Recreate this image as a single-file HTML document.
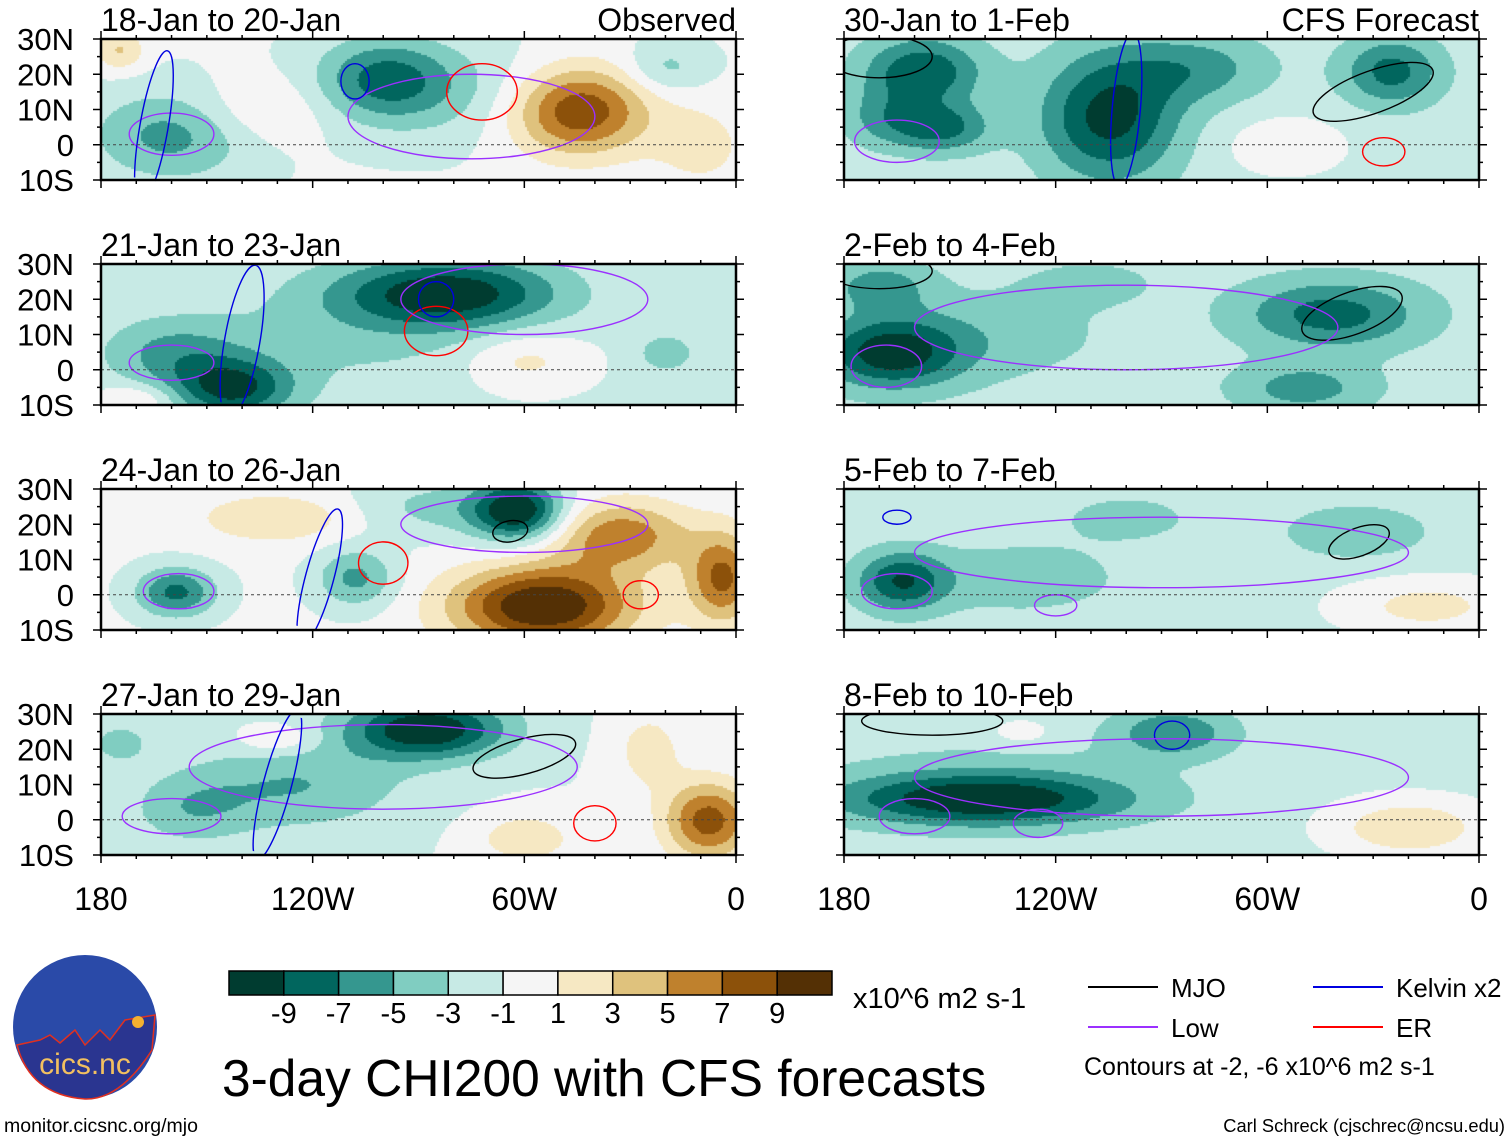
<!DOCTYPE html>
<html><head><meta charset="utf-8"><style>
body{margin:0;background:#fff;}
#wrap{position:relative;width:1510px;height:1142px;overflow:hidden;font-family:"Liberation Sans",sans-serif;}
canvas{position:absolute;}
svg{position:absolute;left:0;top:0;}
</style></head><body>
<div id="wrap">
<svg id="s" width="1510" height="1142"></svg>
</div>
<script>
const levelColors=["#003c30","#01665e","#35978f","#80cdc1","#c7eae5","#f5f5f5","#f6e8c3","#dfc27d","#bf812d","#8c510a","#543005"];
const colorbarLabels=["-9","-7","-5","-3","-1","1","3","5","7","9"];
const latTicks=[30,20,10,0,-10];
const latLabels=["30N","20N","10N","0","10S"];
const lonTicks=[-180,-120,-60,0];
const lonLabels=["180","120W","60W","0"];
const panelTitles=["18-Jan to 20-Jan","21-Jan to 23-Jan","24-Jan to 26-Jan","27-Jan to 29-Jan","30-Jan to 1-Feb","2-Feb to 4-Feb","5-Feb to 7-Feb","8-Feb to 10-Feb"];
const panelBase=[-0.8,-1.3,-0.6,-1.0,-1.8,-2.0,-1.8,-1.8];
// blobs: [lon, lat, amplitude, lonRadius, latRadius]
const blobs0=[[-45,10,10,14,9],[-100,19,-6,13,8],[-160,3,-5,16,9],[-175,27,4,5,4],[-135,10,2.5,14,7],[-80,15,-2.5,25,10],[-10,0,2.5,10,9],[-20,22,-3,8,5]];
const blobs1=[[-82,22,-9,22,7],[-143,-5,-8,12,6],[-60,3,3,12,6],[-160,5,-4,14,7],[-110,10,-2,30,12],[-20,5,-3,6,4],[-170,-8,3,8,3]];
const blobs2=[[-62,24,-10,9,6],[-55,-3,12,18,8],[-33,17,7,14,7],[-130,22,3.5,16,5],[-159,1,-7,8,5],[-108,5,-5,8,6],[-4,5,8,7,9],[-85,25,-3,18,6]];
const blobs3=[[-88,26,-10,16,6],[-125,10,-4,22,9],[-8,0,9,9,8],[-60,-5,3.5,10,5],[-130,23,3,8,3],[-155,3,-3,12,7],[-25,20,3,7,8],[-175,22,-3,6,4]];
const blobs4=[[-105,8,-8,14,13],[-158,21,-7,12,7],[-25,21,-6,10,7],[-153,5,-6,10,5],[-55,0,2.5,12,6],[-80,22,-4,15,7],[-170,8,-3,8,6]];
const blobs5=[[-167,5,-8,14,7],[-42,16,-6,18,7],[-50,-5,-4,14,5],[-140,10,-2,24,9],[-170,24,-4,10,5],[-110,25,-1.5,15,5]];
const blobs6=[[-164,4,-7,9,6],[-130,5,-2.5,20,7],[-15,-3,3.5,18,6],[-35,18,-2.5,16,6],[-100,22,-2,14,5]];
const blobs7=[[-141,6,-8,28,5],[-20,-2,4.5,16,6],[-87,25,-5,12,5],[-140,10,-2,34,9],[-130,25,2,7,3]];
const panelBlobs=[blobs0,blobs1,blobs2,blobs3,blobs4,blobs5,blobs6,blobs7];
// contours: [type, lon, lat, lonRadius, latRadius, rotationDeg]
const contours=[
 [["low",-160,3,12,6,0],["low",-75,8,35,12,0],["er",-72,15,10,8,0],["kelvin",-108,18,4,5,0],["kelvin",-165,5,4,22,10]],
 [["low",-160,2,12,5,0],["er",-85,11,9,7,0],["kelvin",-85,20,5,5,0],["low",-60,20,35,10,0],["kelvin",-140,8,5,22,10]],
 [["low",-158,1,10,5,0],["er",-100,9,7,6,0],["er",-27,0,5,4,0],["mjo",-64,18,5,3,-10],["low",-60,20,35,8,0],["kelvin",-118,5,4,20,15]],
 [["low",-160,1,14,5,0],["mjo",-60,18,15,5,-15],["er",-40,-1,6,5,0],["low",-100,15,55,12,0],["kelvin",-130,10,4,22,15]],
 [["low",-165,1,12,6,0],["mjo",-30,15,18,6,-20],["er",-27,-2,6,4,0],["mjo",-170,25,15,6,0],["kelvin",-100,10,4,22,5]],
 [["low",-168,1,10,6,0],["mjo",-36,16,15,6,-20],["low",-100,12,60,12,0],["mjo",-170,28,15,5,0]],
 [["low",-165,1,10,5,0],["mjo",-34,15,9,4,-20],["low",-120,-3,6,3,0],["low",-90,12,70,10,0],["kelvin",-165,22,4,2,0]],
 [["low",-160,1,10,5,0],["low",-125,-1,7,4,0],["kelvin",-87,24,5,4,0],["mjo",-155,28,20,4,0],["low",-90,12,70,11,0]]
];
const contourColors={mjo:"#000",low:"#9b30ff",kelvin:"#0000e0",er:"#f00"};

const NS="http://www.w3.org/2000/svg";
const svg=document.getElementById('s');
function mk(tag,attrs,parent,text){const e=document.createElementNS(NS,tag);for(const k in attrs)e.setAttribute(k,attrs[k]);if(text!==undefined)e.textContent=text;(parent||svg).appendChild(e);return e;}
const PW=635,PH=141;
const origins=[[101,39],[101,264],[101,489],[101,714],[844,39],[844,264],[844,489],[844,714]];
function fieldAt(p,lon,lat){let v=panelBase[p];for(const b of panelBlobs[p]){const dx=(lon-b[0])/b[3],dy=(lat-b[1])/b[4];v+=b[2]*Math.exp(-(dx*dx+dy*dy)/2);}return v;}
function levelIndex(v){return Math.max(0,Math.min(10,Math.floor((v+11)/2)));}
const wrap=document.getElementById('wrap');
origins.forEach((o,p)=>{
  const x0=o[0],y0=o[1];
  const xs=lon=>x0+(lon+180)/180*PW, ys=lat=>y0+(30-lat)/40*PH;
  const c=document.createElement('canvas');c.width=PW;c.height=PH;c.style.left=x0+'px';c.style.top=y0+'px';
  
  
  wrap.insertBefore(c,svg);
  const ctx=c.getContext('2d');const st=2;
  for(let px=0;px<PW;px+=st)for(let py=0;py<PH;py+=st){
    const lon=-180+px/PW*180,lat=30-py/PH*40;
    ctx.fillStyle=levelColors[levelIndex(fieldAt(p,lon,lat))];ctx.fillRect(px,py,st,st);
  }
  const g=mk('g',{});
  const cp=mk('clipPath',{id:'clip'+p},g);mk('rect',{x:x0,y:y0,width:PW,height:PH},cp);
  contours[p].forEach(ct=>{
    const cx=xs(ct[1]),cy=ys(ct[2]),rx=ct[3]/180*PW,ry=ct[4]/40*PH;
    mk('ellipse',{cx,cy,rx,ry,transform:`rotate(${ct[5]} ${cx} ${cy})`,fill:'none',stroke:contourColors[ct[0]],'stroke-width':1.4,'clip-path':'url(#clip'+p+')',},g);
  });
  mk('line',{x1:x0,x2:x0+PW,y1:ys(0),y2:ys(0),stroke:'#444','stroke-dasharray':'3,3','stroke-width':1,},g);
  mk('rect',{x:x0,y:y0,width:PW,height:PH,fill:'none',stroke:'#000','stroke-width':2.5,},g);
  for(let lon=-180;lon<=0;lon+=10){const x=xs(lon),l=lon%60==0?8:4;
    mk('line',{x1:x,x2:x,y1:y0,y2:y0-l,stroke:'#000','stroke-width':1.5},g);mk('line',{x1:x,x2:x,y1:y0+PH,y2:y0+PH+l,stroke:'#000','stroke-width':1.5},g);}
  for(let lat=-10;lat<=30;lat+=5){const y=ys(lat),l=lat%10==0?8:4;
    mk('line',{x1:x0,x2:x0-l,y1:y,y2:y,stroke:'#000','stroke-width':1.5},g);mk('line',{x1:x0+PW,x2:x0+PW+l,y1:y,y2:y,stroke:'#000','stroke-width':1.5},g);}
  mk('text',{x:x0,y:y0-8,'font-size':32,},g,panelTitles[p]);
  if(p==0)mk('text',{x:x0+PW,y:y0-8,'font-size':32,'text-anchor':'end',},g,'Observed');
  if(p==4)mk('text',{x:x0+PW,y:y0-8,'font-size':32,'text-anchor':'end',},g,'CFS Forecast');
  if(p<4)latTicks.forEach((lat,i)=>mk('text',{x:74,y:ys(lat)+11,'font-size':31,'text-anchor':'end',},g,latLabels[i]));
  if(p==3||p==7)lonTicks.forEach((lon,i)=>mk('text',{x:xs(lon),y:910,'font-size':32,'text-anchor':'middle',},g,lonLabels[i]));
});
const cb=mk('g',{});
const cbx=229,cbw=603/11;
levelColors.forEach((c,i)=>mk('rect',{x:cbx+i*cbw,y:971,width:cbw,height:24,fill:c,stroke:'#000','stroke-width':1.5},cb));
colorbarLabels.forEach((t,i)=>mk('text',{x:cbx+(i+1)*cbw,y:1023,'font-size':29,'text-anchor':'middle'},cb,t));
mk('text',{x:853,y:1008,'font-size':29,},null,'x10^6 m2 s-1');
mk('text',{x:222,y:1096,'font-size':51.5,},null,'3-day CHI200 with CFS forecasts');
const lg=mk('g',{});
[["mjo","MJO",1088,987],["low","Low",1088,1027],["kelvin","Kelvin x2",1313,987],["er","ER",1313,1027]].forEach(e=>{
  mk('line',{x1:e[2],x2:e[2]+70,y1:e[3],y2:e[3],stroke:contourColors[e[0]],'stroke-width':2},lg);
  mk('text',{x:e[2]+83,y:e[3]+10,'font-size':26},lg,e[1]);
});
mk('text',{x:1084,y:1075,'font-size':25,},null,'Contours at -2, -6 x10^6 m2 s-1');
mk('text',{x:4,y:1132,'font-size':19.5,},null,'monitor.cicsnc.org/mjo');
mk('text',{x:1505,y:1132,'font-size':18.3,'text-anchor':'end',},null,'Carl Schreck (cjschrec@ncsu.edu)');
const lgo=mk('g',{});
mk('circle',{cx:85,cy:1027,r:72,fill:'#2a4aa8'},lgo);
mk('path',{d:'M17,1045 L40,1040 L50,1035 L60,1043 L75,1030 L85,1045 L100,1030 L110,1040 L125,1020 L155,1015 L152,1050 Q120,1100 85,1099 Q30,1095 17,1045 Z',fill:'#2a3590',stroke:'#e03020','stroke-width':1.5},lgo);
mk('circle',{cx:138,cy:1022,r:6,fill:'#f4b030'},lgo);
mk('text',{x:85,y:1074,'font-size':30,'text-anchor':'middle',fill:'#f2c060'},lgo,'cics.nc');
</script>
</body></html>
